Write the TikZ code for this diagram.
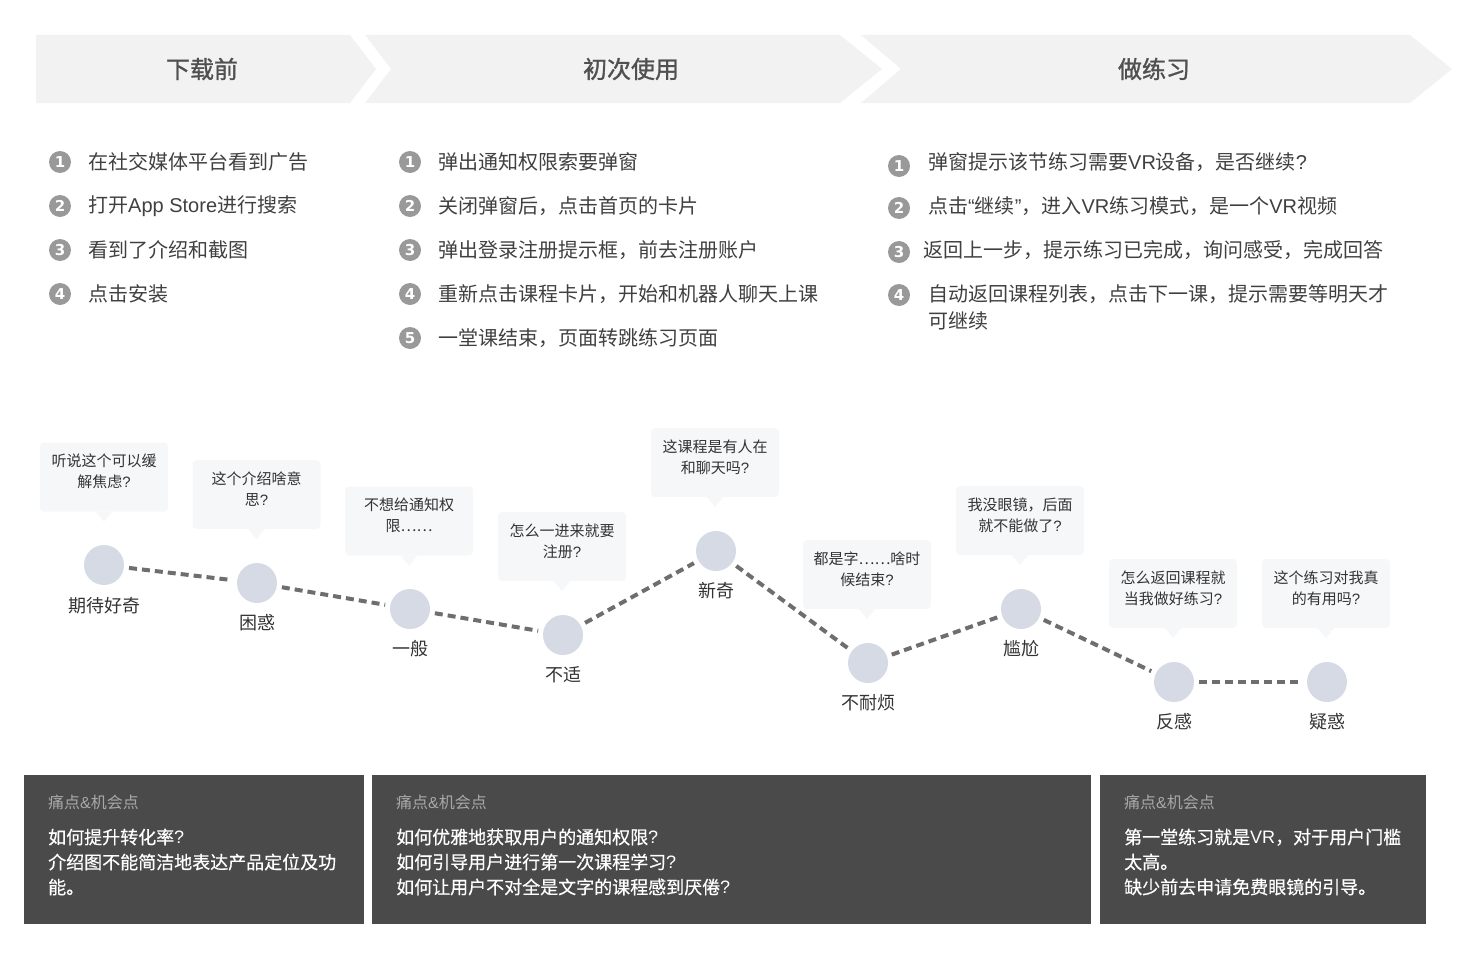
\documentclass[tikz,border=0pt]{standalone}
\usepackage{fontspec}
\setmainfont{Noto Sans CJK SC}
\newfontfamily\titlefont[FakeBold=1.2]{Noto Sans CJK SC}
\newfontfamily\midfont[FakeBold=0.5]{Noto Sans CJK SC}
\newfontfamily\numfont{DejaVu Sans}
\newfontfamily\latfont{Liberation Sans}
\newcommand{\lt}[1]{{\latfont #1}}
\newcommand{\qm}{{\latfont ?}}
\usetikzlibrary{calc}
\definecolor{hdr}{HTML}{F2F2F2}
\definecolor{titlec}{HTML}{505050}
\definecolor{stepc}{HTML}{404040}
\definecolor{badgec}{HTML}{999999}
\definecolor{moodc}{HTML}{D5DAE4}
\definecolor{labc}{HTML}{333333}
\definecolor{bubc}{HTML}{F6F7F9}
\definecolor{painc}{HTML}{4A4A4A}
\definecolor{painh}{HTML}{A8A8A8}
\definecolor{linkc}{HTML}{6E6E6E}
\begin{document}
\begin{tikzpicture}[x=1pt,y=-1pt,
  stage/.style={fill=hdr,draw=none},
  stagetitle/.style={font=\titlefont\fontsize{24}{24}\selectfont,text=titlec,inner sep=0},
  badge/.style={circle,fill=badgec,minimum size=22pt,inner sep=0,text=white,font=\numfont\bfseries\fontsize{15}{15}\selectfont},
  steptext/.style={anchor=west,font=\fontsize{20}{27}\selectfont,text=stepc,inner sep=0,align=left},
  mood/.style={circle,fill=moodc,minimum size=40pt,inner sep=0},
  moodlabel/.style={font=\fontsize{18}{18}\selectfont,text=labc,inner sep=0},
  bubble/.style={fill=bubc,rounded corners=4pt,minimum width=128pt,minimum height=69pt,inner sep=0},
  bubtext/.style={font=\fontsize{15}{21}\selectfont,align=center,text=labc,inner sep=0},
  pain/.style={fill=painc,inner sep=0,anchor=north west},
  painhead/.style={anchor=west,font=\fontsize{16}{16}\selectfont,text=painh,inner sep=0},
  painbody/.style={anchor=west,align=left,font=\midfont\fontsize{18}{25}\selectfont,text=white,inner sep=0},
  link/.style={draw=linkc,line width=4pt,dash pattern=on 8pt off 5pt,shorten <=5pt,shorten >=5pt}
]
\useasboundingbox (0,0) rectangle (1471,958);

% ---- stage headers
\fill[stage] (36,35) -- (350,35) -- (376,69) -- (350,103) -- (36,103) -- cycle;
\fill[stage] (365,35) -- (840,35) -- (882,69) -- (840,103) -- (365,103) -- (391,69) -- cycle;
\fill[stage] (861,35) -- (1410,35) -- (1452,69) -- (1410,103) -- (861,103) -- (901,69) -- cycle;
\node[stagetitle] (t1) at (202,69) {下载前};
\node[stagetitle] (t2) at (631,69) {初次使用};
\node[stagetitle] (t3) at (1154,69) {做练习};

% ---- steps column 1
\node[badge] (a1) at (60,162) {1};
\node[steptext] (as1) at (88,162) {在社交媒体平台看到广告};
\node[badge] (a2) at (60,206) {2};
\node[steptext] (as2) at (88,206) {打开\lt{App Store}进行搜索};
\node[badge] (a3) at (60,250) {3};
\node[steptext] (as3) at (88,250) {看到了介绍和截图};
\node[badge] (a4) at (60,294) {4};
\node[steptext] (as4) at (88,294) {点击安装};

% ---- steps column 2
\node[badge] (b1n) at (410,162) {1};
\node[steptext] (bs1) at (438,162) {弹出通知权限索要弹窗};
\node[badge] (b2n) at (410,206) {2};
\node[steptext] (bs2) at (438,206) {关闭弹窗后，点击首页的卡片};
\node[badge] (b3n) at (410,250) {3};
\node[steptext] (bs3) at (438,250) {弹出登录注册提示框，前去注册账户};
\node[badge] (b4n) at (410,294) {4};
\node[steptext] (bs4) at (438,294) {重新点击课程卡片，开始和机器人聊天上课};
\node[badge] (b5n) at (410,338) {5};
\node[steptext] (bs5) at (438,338) {一堂课结束，页面转跳练习页面};

% ---- steps column 3
\node[badge] (c1n) at (899,166) {1};
\node[steptext] (cs1) at (928,162) {弹窗提示该节练习需要\lt{VR}设备，是否继续\qm};
\node[badge] (c2n) at (899,208) {2};
\node[steptext] (cs2) at (928,206) {点击\lt{“}继续\lt{”}，进入\lt{VR}练习模式，是一个\lt{VR}视频};
\node[badge] (c3n) at (899,252) {3};
\node[steptext] (cs3) at (923,250) {返回上一步，提示练习已完成，询问感受，完成回答};
\node[badge] (c4n) at (899,295) {4};
\node[steptext] (cs4) at (928,307.5) {自动返回课程列表，点击下一课，提示需要等明天才\\可继续};

% ---- bubbles
\newcommand{\bub}[4]{%
  \node[bubble] (#1) at (#2,#3) {};
  \fill[bubc] ($(#1.south)+(-8,0)$) -- ($(#1.south)+(0,10)$) -- ($(#1.south)+(8,0)$) -- cycle;
  \node[bubtext] (#1t) at ($(#1.center)+(0,-5.5)$) {#4};
}
\bub{q1}{104}{477}{听说这个可以缓\\解焦虑\qm}
\bub{q2}{256.5}{494.5}{这个介绍啥意\\思\qm}
\bub{q3}{409}{521}{不想给通知权\\限……}
\bub{q4}{562}{546.5}{怎么一进来就要\\注册\qm}
\bub{q5}{715}{462.5}{这课程是有人在\\和聊天吗\qm}
\bub{q6}{867}{574.5}{都是字……啥时\\候结束\qm}
\bub{q7}{1020}{520.5}{我没眼镜，后面\\就不能做了\qm}
\bub{q8}{1173}{593.5}{怎么返回课程就\\当我做好练习\qm}
\bub{q9}{1326}{593.5}{这个练习对我真\\的有用吗\qm}

% ---- mood points
\node[mood] (m1) at (104,565) {};
\node[mood] (m2) at (257,583) {};
\node[mood] (m3) at (410,609) {};
\node[mood] (m4) at (563,635) {};
\node[mood] (m5) at (716,551) {};
\node[mood] (m6) at (868,663) {};
\node[mood] (m7) at (1021,609) {};
\node[mood] (m8) at (1174,682) {};
\node[mood] (m9) at (1327,682) {};

\draw[link] (m1) -- (m2);
\draw[link] (m2) -- (m3);
\draw[link] (m3) -- (m4);
\draw[link] (m4) -- (m5);
\draw[link] (m5) -- (m6);
\draw[link] (m6) -- (m7);
\draw[link] (m7) -- (m8);
\draw[link] (m8) -- (m9);

\node[moodlabel] (l1) at (104,606) {期待好奇};
\node[moodlabel] (l2) at (257,623) {困惑};
\node[moodlabel] (l3) at (410,649) {一般};
\node[moodlabel] (l4) at (563,675) {不适};
\node[moodlabel] (l5) at (716,591) {新奇};
\node[moodlabel] (l6) at (868,703) {不耐烦};
\node[moodlabel] (l7) at (1021,649) {尴尬};
\node[moodlabel] (l8) at (1174,722) {反感};
\node[moodlabel] (l9) at (1327,722) {疑惑};

% ---- pain points
\node[pain,minimum width=340pt,minimum height=149pt] (p1) at (24,775) {};
\node[pain,minimum width=719pt,minimum height=149pt] (p2) at (372,775) {};
\node[pain,minimum width=326pt,minimum height=149pt] (p3) at (1100,775) {};
\node[painhead] (p1h) at (48,802) {痛点\lt{\&}机会点};
\node[painhead] (p2h) at (396,802) {痛点\lt{\&}机会点};
\node[painhead] (p3h) at (1124,802) {痛点\lt{\&}机会点};
\node[painbody] (p1b) at (48,862) {如何提升转化率\qm\\介绍图不能简洁地表达产品定位及功\\能。};
\node[painbody] (p2b) at (396,862) {如何优雅地获取用户的通知权限\qm\\如何引导用户进行第一次课程学习\qm\\如何让用户不对全是文字的课程感到厌倦\qm};
\node[painbody] (p3b) at (1124,862) {第一堂练习就是\lt{VR}，对于用户门槛\\太高。\\缺少前去申请免费眼镜的引导。};
\end{tikzpicture}
\end{document}
